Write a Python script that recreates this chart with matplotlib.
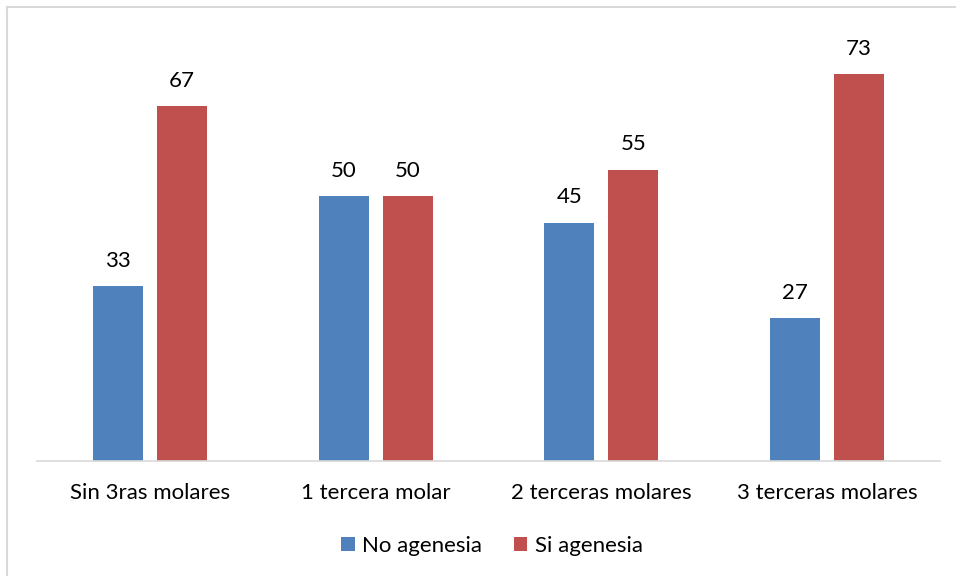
import numpy as np
import matplotlib.pyplot as plt
from matplotlib.lines import Line2D

categories = ['Sin 3ras molares', '1 tercera molar', '2 terceras molares', '3 terceras molares']
no_agenesia = [33, 50, 45, 27]
si_agenesia = [67, 50, 55, 73]

blue = '#4f81bd'
red = '#c0504d'

plt.rcParams['font.family'] = ['Lato', 'DejaVu Sans']

W, H = 956, 576
fig = plt.figure(figsize=(W / 100, H / 100), dpi=100)
ax = fig.add_axes([37 / W, 115 / H, 903 / W, 441 / H])

x = np.arange(len(categories))
width = 0.2215
off = 0.1417
b1 = ax.bar(x - off, no_agenesia, width, color=blue, label='No agenesia')
b2 = ax.bar(x + off, si_agenesia, width, color=red, label='Si agenesia')

for bars in (b1, b2):
    for rect in bars:
        h = rect.get_height()
        ax.annotate(f'{h:.0f}', (rect.get_x() + rect.get_width() / 2, h),
                    xytext=(0, 11), textcoords='offset points',
                    ha='center', va='bottom', fontsize=16)

ax.set_xlim(-0.5, 3.5)
ax.set_ylim(0, 441 / 5.3)
ax.set_xticks(x)
ax.set_xticklabels(categories, fontsize=16)
ax.tick_params(axis='x', length=0, pad=16)
ax.set_yticks([])
for s in ['top', 'right', 'left']:
    ax.spines[s].set_visible(False)
ax.spines['bottom'].set_color('#d9d9d9')
ax.spines['bottom'].set_linewidth(1.2)

fig.legend(handles=[b1, b2], loc='center', bbox_to_anchor=(492 / W, 1 - 546 / H),
           ncol=2, frameon=False, fontsize=16, handlelength=0.6, handleheight=0.6,
           columnspacing=1.4, handletextpad=0.35)

# light gray frame around chart area
fig.add_artist(Line2D([7 / W, 1], [1 - 7 / H, 1 - 7 / H], color='#d9d9d9', lw=1.5))
fig.add_artist(Line2D([7 / W, 7 / W], [0, 1 - 7 / H], color='#d9d9d9', lw=1.5))

fig.savefig('out.png', dpi=100)
